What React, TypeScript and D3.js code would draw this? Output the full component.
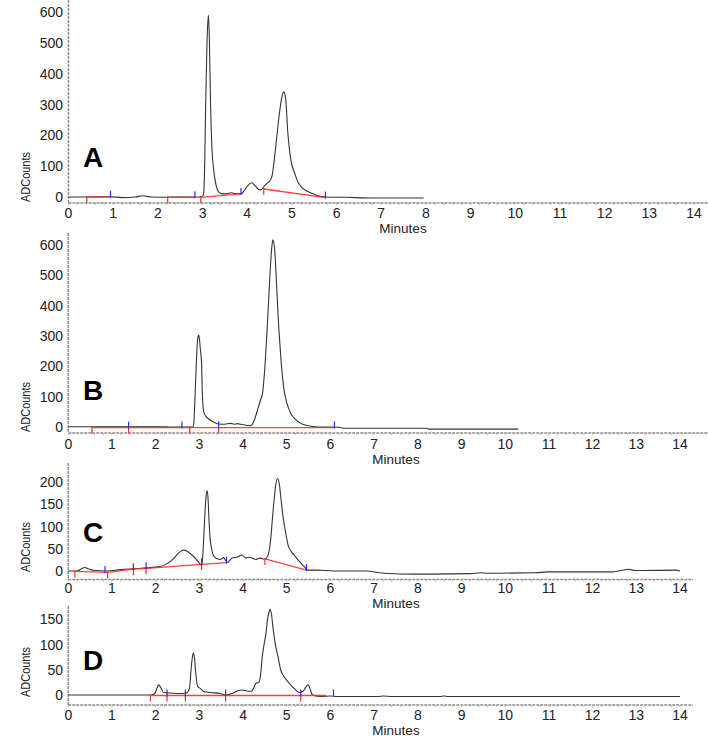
import React from "react";
import * as d3 from "d3";

// ---- Data (time in minutes, signal in ADCounts) ----
const xTicks = d3.range(0, 15);

const yTicksA = [0, 100, 200, 300, 400, 500, 600];
const yTicksB = [0, 100, 200, 300, 400, 500, 600];
const yTicksC = [0, 50, 100, 150, 200];
const yTicksD = [0, 50, 100, 150];

const traceA: [number, number][] = [
  [0, 0], [0.4, 0], [0.94, 1], [1.2, -2], [1.5, 0], [1.66, 4], [1.85, 0], [2.22, -1], [2.5, 0], [2.83, 0],
  [2.98, 1], [3.01, 4], [3.03, 20], [3.05, 120], [3.07, 300], [3.1, 500], [3.13, 590], [3.15, 530],
  [3.18, 300], [3.21, 160], [3.25, 87], [3.3, 40], [3.36, 17], [3.45, 10], [3.55, 11], [3.63, 14],
  [3.7, 12], [3.8, 10], [3.86, 10], [3.93, 20], [4.02, 38], [4.1, 46], [4.17, 38], [4.24, 26],
  [4.31, 23], [4.38, 35], [4.45, 45], [4.49, 50], [4.55, 65], [4.61, 126], [4.67, 206], [4.72, 270],
  [4.77, 320], [4.82, 341], [4.86, 320], [4.91, 206], [4.97, 126], [5.06, 78], [5.13, 50], [5.21, 33],
  [5.3, 22], [5.43, 13], [5.55, 6], [5.73, 0], [6.2, -1], [6.8, -3], [7.95, -3],
];

const traceB: [number, number][] = [
  [0, 1], [1.0, 1], [2.2, 1], [2.3, 0], [2.6, 0], [2.86, 0], [2.88, 30], [2.9, 100], [2.93, 210],
  [2.96, 290], [2.985, 303], [3.0, 292], [3.02, 260], [3.05, 210], [3.07, 100], [3.1, 50], [3.15, 35],
  [3.2, 28], [3.3, 18], [3.44, 10], [3.58, 9], [3.71, 12], [3.8, 9], [3.87, 11], [3.98, 8], [4.1, 5],
  [4.17, 4], [4.25, 20], [4.33, 56], [4.4, 89], [4.45, 115], [4.5, 200], [4.55, 320], [4.6, 460],
  [4.65, 580], [4.68, 617], [4.72, 590], [4.76, 490], [4.8, 370], [4.84, 280], [4.88, 200], [4.93, 130],
  [5.0, 80], [5.09, 45], [5.2, 25], [5.32, 12], [5.5, 4], [5.7, 0], [6.2, -1], [6.3, -4], [8.2, -4],
  [8.25, -7], [10.3, -7],
];

const traceC: [number, number][] = [
  [0, 0], [0.2, 0], [0.3, 5], [0.38, 8], [0.48, 4], [0.6, 1], [0.9, 0], [1.0, 1], [1.2, 3], [1.49, 5],
  [1.8, 7], [2.1, 10], [2.25, 16], [2.41, 28], [2.52, 40], [2.63, 47], [2.73, 44], [2.83, 36],
  [2.92, 27], [2.99, 19], [3.05, 13], [3.07, 25], [3.09, 55], [3.12, 115], [3.15, 165], [3.18, 180],
  [3.2, 160], [3.22, 115], [3.24, 80], [3.27, 55], [3.31, 38], [3.36, 30], [3.42, 27], [3.48, 26],
  [3.55, 30], [3.6, 24], [3.64, 19], [3.7, 24], [3.75, 29], [3.85, 31], [3.98, 36], [4.06, 29],
  [4.12, 31], [4.17, 31], [4.23, 28], [4.29, 26], [4.35, 28], [4.4, 29], [4.46, 27], [4.52, 28],
  [4.57, 35], [4.62, 60], [4.67, 115], [4.71, 160], [4.75, 195], [4.79, 208], [4.83, 195], [4.87, 160],
  [4.91, 125], [4.95, 100], [4.99, 78], [5.03, 58], [5.1, 44], [5.17, 36], [5.28, 22], [5.4, 10],
  [5.47, 2], [5.7, 2], [6.09, 0], [6.85, 0], [7.05, -3], [7.23, -5], [7.92, -7], [9.2, -6], [9.45, -4],
  [9.6, -5], [10.68, -4], [10.98, -2], [12.44, -2], [12.65, 1], [12.82, 4], [12.97, 1], [13.9, 2],
  [14.0, 0],
];

const traceD: [number, number][] = [
  [0, 0], [1.9, 0], [1.98, 3], [2.03, 14], [2.07, 20], [2.12, 14], [2.18, 5], [2.3, 4], [2.5, 3],
  [2.7, 4], [2.76, 10], [2.78, 17], [2.81, 50], [2.84, 75], [2.86, 83], [2.89, 72], [2.91, 50],
  [2.96, 17], [3.02, 13], [3.1, 7], [3.25, 5], [3.48, 3], [3.6, 0], [3.75, 3], [3.9, 9], [3.98, 10],
  [4.08, 8], [4.17, 7], [4.25, 15], [4.29, 23], [4.36, 25], [4.4, 40], [4.44, 76], [4.48, 100],
  [4.52, 120], [4.56, 150], [4.6, 166], [4.62, 170], [4.65, 160], [4.69, 130], [4.74, 100], [4.8, 76],
  [4.86, 50], [4.94, 36], [5.02, 27], [5.09, 20], [5.18, 12], [5.28, 5], [5.38, 8], [5.44, 16],
  [5.49, 20], [5.54, 10], [5.59, 0], [5.78, -3], [6.0, -2], [6.16, -3], [7.1, -3], [7.2, -2], [7.4, -3],
  [8.5, -3], [8.6, -2], [8.7, -3], [14.0, -3],
];

// integration baselines (red) and event markers
const baseA: [number, number][][] = [
  [[0.41, 0], [0.94, 0]],
  [[2.22, -1], [2.83, -1]],
  [[2.96, -1], [3.86, 10]],
  [[4.37, 26], [5.75, -2]],
];
const redTicksA: [number, number][] = [[0.41, 0], [2.22, -1], [2.96, -1], [4.37, 26]];
const blueTicksA: [number, number][] = [[0.94, 0], [2.83, -1], [3.86, 10], [5.75, -2]];

const baseB: [number, number][][] = [[[0.54, -2], [6.09, -2]]];
const redTicksB: [number, number][] = [[0.54, -2], [1.38, -2], [2.78, -2], [3.44, -2]];
const blueTicksB: [number, number][] = [[1.38, -2], [2.6, -2], [3.44, -2], [6.09, -2]];

const baseC: [number, number][][] = [
  [[0.15, -1], [0.9, -3], [1.49, 4], [1.78, 6], [3.05, 15], [3.62, 19]],
  [[4.5, 27], [5.45, 2]],
];
const redTicksC: [number, number][] = [[0.15, -1], [0.9, -3], [1.49, 4], [1.78, 6], [3.05, 15], [4.5, 27]];
const blueTicksC: [number, number][] = [[0.84, -2], [1.49, 4], [1.78, 6], [3.05, 15], [3.62, 19], [5.45, 2]];

const baseD: [number, number][][] = [[[1.9, -1], [5.9, -1]]];
const redTicksD: [number, number][] = [[1.88, -1], [2.26, -1], [2.68, -1], [3.6, -1], [5.32, -1]];
const blueTicksD: [number, number][] = [[2.26, -1], [2.68, -1], [3.6, -1], [5.32, -1], [6.07, -1]];

// ---- Layout ----
type Panel = {
  label: string;
  trace: [number, number][];
  base: [number, number][][];
  red: [number, number][];
  blue: [number, number][];
  yTicks: number[];
  x0: number; x14: number; axisEnd: number;
  y0: number; yTop: number; yTopVal: number;
  axisY: number; axisTop: number;
  tickLabelY: number; minutesY: number; minutesX: number;
  letterY: number; ylabY: number;
};

const panels: Panel[] = [
  { label: "A", trace: traceA, base: baseA, red: redTicksA, blue: blueTicksA, yTicks: yTicksA,
    x0: 68.5, x14: 694, axisEnd: 708, y0: 197, yTop: 12, yTopVal: 600, axisY: 203, axisTop: 0,
    tickLabelY: 218, minutesY: 233, minutesX: 403, letterY: 167, ylabY: 177 },
  { label: "B", trace: traceB, base: baseB, red: redTicksB, blue: blueTicksB, yTicks: yTicksB,
    x0: 68.3, x14: 680, axisEnd: 708, y0: 427, yTop: 245, yTopVal: 600, axisY: 433, axisTop: 233,
    tickLabelY: 449, minutesY: 464, minutesX: 396, letterY: 400, ylabY: 407 },
  { label: "C", trace: traceC, base: baseC, red: redTicksC, blue: blueTicksC, yTicks: yTicksC,
    x0: 68.3, x14: 680, axisEnd: 693, y0: 571, yTop: 482, yTopVal: 200, axisY: 579.5, axisTop: 463,
    tickLabelY: 593, minutesY: 608, minutesX: 396, letterY: 541.5, ylabY: 547 },
  { label: "D", trace: traceD, base: baseD, red: redTicksD, blue: blueTicksD, yTicks: yTicksD,
    x0: 68.3, x14: 680, axisEnd: 693, y0: 695, yTop: 619.3, yTopVal: 150, axisY: 705, axisTop: 606,
    tickLabelY: 720, minutesY: 735, minutesX: 396, letterY: 670, ylabY: 672 },
];

const FONT = "'Liberation Sans', Arial, Helvetica, sans-serif";

function PanelView({ p }: { p: Panel }) {
  const x = d3.scaleLinear().domain([0, 14]).range([p.x0, p.x14]);
  const y = d3.scaleLinear().domain([0, p.yTopVal]).range([p.y0, p.yTop]);
  const line = d3
    .line<[number, number]>()
    .x((d) => x(d[0]))
    .y((d) => y(d[1]))
    .curve(d3.curveMonotoneX);
  const straight = d3
    .line<[number, number]>()
    .x((d) => x(d[0]))
    .y((d) => y(d[1]));
  const minor = d3.range(0, 14.01, 0.2);
  return (
    <g>
      {/* axes */}
      <line x1={p.x0} x2={p.axisEnd} y1={p.axisY} y2={p.axisY} stroke="#8a8a8a" strokeWidth={1.6} strokeDasharray="3 1" />
      <line x1={p.x0} x2={p.x0} y1={p.axisTop} y2={p.axisY} stroke="#8a8a8a" strokeWidth={1.4} strokeDasharray="3 1" />
      {minor.map((m, i) => (
        <line key={"m" + i} x1={x(m)} x2={x(m)} y1={p.axisY} y2={p.axisY + 2} stroke="#aaa" strokeWidth={0.8} />
      ))}
      {xTicks.map((t) => (
        <text key={"xt" + t} x={x(t)} y={p.tickLabelY} fontFamily={FONT} fontSize={14} textAnchor="middle" fill="#222">
          {t}
        </text>
      ))}
      {p.yTicks.map((t) => (
        <text key={"yt" + t} x={63} y={y(t) + 5} fontFamily={FONT} fontSize={14} textAnchor="end" fill="#222">
          {t}
        </text>
      ))}
      <text x={p.minutesX} y={p.minutesY} fontFamily={FONT} fontSize={13.5} textAnchor="middle" fill="#222">
        Minutes
      </text>
      <text
        transform={`translate(30,${p.ylabY}) rotate(-90)`}
        fontFamily={FONT}
        fontSize={12}
        textAnchor="middle"
        fill="#222"
        textLength={50}
        lengthAdjust="spacingAndGlyphs"
      >
        ADCounts
      </text>
      <text x={83} y={p.letterY} fontFamily={FONT} fontSize={28} fontWeight="bold" fill="#000">
        {p.label}
      </text>
      {/* trace */}
      <path d={line(p.trace) || ""} fill="none" stroke="#333" strokeWidth={1.1} />
      {/* integration baselines */}
      {p.base.map((seg, i) => (
        <path key={"b" + i} d={straight(seg) || ""} fill="none" stroke="#ff2a2a" strokeWidth={1.3} opacity={0.9} />
      ))}
      {p.red.map((d, i) => (
        <line key={"r" + i} x1={x(d[0])} x2={x(d[0])} y1={y(d[1]) - 1} y2={y(d[1]) + 6} stroke="#ff2a2a" strokeWidth={1.2} />
      ))}
      {p.blue.map((d, i) => (
        <line key={"bl" + i} x1={x(d[0])} x2={x(d[0])} y1={y(d[1]) - 6} y2={y(d[1]) + 1} stroke="#2a2aff" strokeWidth={1.2} />
      ))}
    </g>
  );
}

export default function App() {
  return (
    <svg
      width={708}
      height={739}
      viewBox="0 0 708 739"
      style={{ position: "absolute", left: 0, top: 0, background: "#fff", display: "block" }}
    >
      <rect x={0} y={0} width={708} height={739} fill="#fff" />
      {panels.map((p) => (
        <PanelView key={p.label} p={p} />
      ))}
    </svg>
  );
}
